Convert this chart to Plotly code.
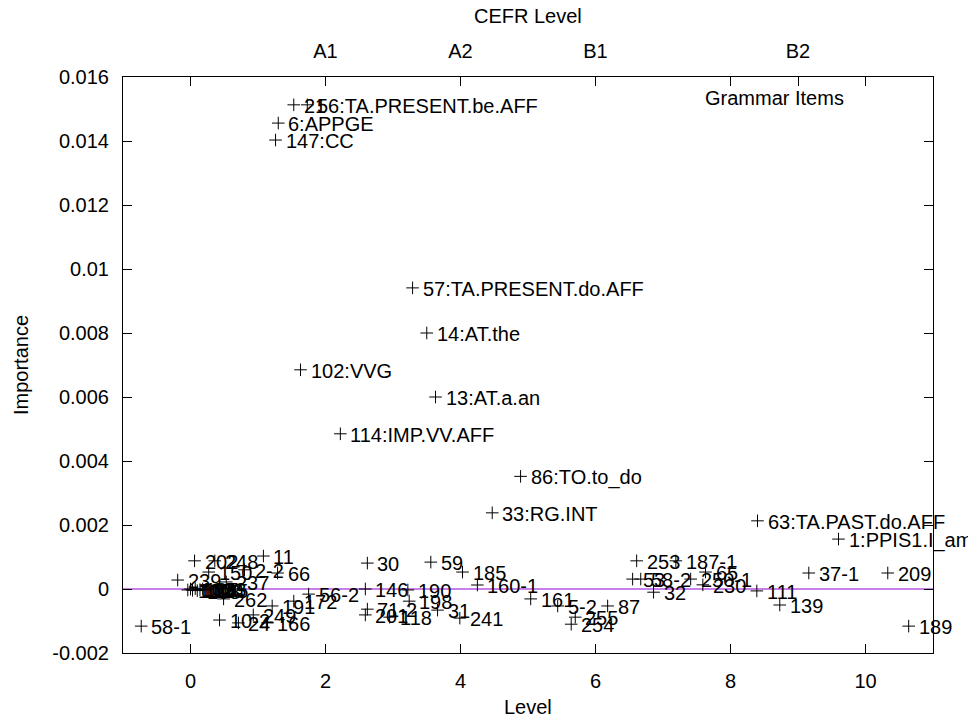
import plotly.graph_objects as go

# ---- data ----
labels = [
    "21", "56:TA.PRESENT.be.AFF", "6:APPGE", "147:CC",
    "57:TA.PRESENT.do.AFF", "14:AT.the", "102:VVG", "13:AT.a.an",
    "114:IMP.VV.AFF", "86:TO.to_do", "33:RG.INT", "63:TA.PAST.do.AFF",
    "1:PPIS1.I_am.AFF",
    "202", "248", "2-2", "11", "66", "150", "239", "237",
    "100", "103", "104", "107", "108", "120", "123", "205",
    "262", "10-2", "24", "249", "166", "191", "172", "56-2",
    "146", "30", "71-2", "201", "118", "190", "198", "31",
    "59", "185", "160-1", "241", "161", "5-2", "87", "255", "254",
    "253", "187-1", "53", "58-2", "32", "250-1", "65", "230",
    "111", "139", "37-1", "209", "189", "58-1",
]
level = [
    1.53, 1.73, 1.30, 1.26,
    3.29, 3.50, 1.63, 3.63,
    2.22, 4.89, 4.47, 8.40,
    9.60,
    0.06, 0.36, 0.80, 1.08, 1.29, 0.27, -0.19, 0.53,
    -0.04, 0.00, 0.03, 0.07, 0.10, 0.14, 0.18, 0.22,
    0.49, 0.43, 0.71, 0.93, 1.14, 1.21, 1.53, 1.75,
    2.59, 2.62, 2.62, 2.59, 2.95, 3.22, 3.24, 3.66,
    3.56, 4.03, 4.25, 3.99, 5.04, 5.44, 6.18, 5.70, 5.64,
    6.61, 7.19, 6.55, 6.67, 6.86, 7.41, 7.63, 7.59,
    8.39, 8.73, 9.16, 10.33, 10.64, -0.73,
]
importance = [
    0.01513, 0.01513, 0.01456, 0.01403,
    0.00941, 0.00800, 0.00685, 0.00600,
    0.00485, 0.00352, 0.00238, 0.00213,
    0.00156,
    0.00088, 0.00088, 0.00060, 0.00103, 0.00050, 0.00053, 0.00028, 0.00022,
    -0.00003, 0.00000, -0.00004, 0.00001, -0.00005, -0.00002, 0.00000, -0.00003,
    -0.00031, -0.00097, -0.00106, -0.00081, -0.00106, -0.00053, -0.00038, -0.00016,
    0.00000, 0.00081, -0.00063, -0.00081, -0.00088, -0.00003, -0.00038, -0.00066,
    0.00084, 0.00053, 0.000125, -0.00091, -0.00031, -0.00053, -0.00053, -0.00088, -0.00110,
    0.00088, 0.00088, 0.00031, 0.00031, -0.00010, 0.00031, 0.00053, 0.00013,
    -0.00006, -0.00050, 0.00050, 0.00050, -0.00116, -0.00116,
]

x_ticks = [0, 2, 4, 6, 8, 10]
y_ticks = [-0.002, 0, 0.002, 0.004, 0.006, 0.008, 0.010, 0.012, 0.014, 0.016]
y_ticktext = ["-0.002", "0", "0.002", "0.004", "0.006", "0.008", "0.01", "0.012", "0.014", "0.016"]
cefr_pos = [2, 4, 6, 9]
cefr_text = ["A1", "A2", "B1", "B2"]

FONT = "Liberation Sans, Arial, Helvetica, sans-serif"
FS = 20

fig = go.Figure()
fig.add_trace(go.Scatter(
    x=level, y=importance, mode="markers",
    marker=dict(symbol="cross-thin", size=9, color="black",
                line=dict(color="black", width=1)),
    cliponaxis=False, showlegend=False, hoverinfo="skip",
))
# carrier for the top (CEFR) axis
fig.add_trace(go.Scatter(
    x=cefr_pos, y=[None] * len(cefr_pos), xaxis="x2", mode="markers",
    marker=dict(opacity=0), showlegend=False, hoverinfo="skip",
))

annotations = []
for lab, xv, yv in zip(labels, level, importance):
    annotations.append(dict(
        x=xv, y=yv, xref="x", yref="y", text=lab, showarrow=False,
        xanchor="left", yanchor="middle", xshift=8, yshift=-1,
        font=dict(family=FONT, size=FS, color="black"),
    ))

L, R, T, B = 123, 933, 77, 653
W, H = 968, 721
pw, ph = R - L, B - T

def px(xp):
    return (xp - L) / pw

def py(yp):
    return (B - yp) / ph

annotations += [
    dict(x=px(528), y=py(16), xref="paper", yref="paper", text="CEFR Level",
         showarrow=False, xanchor="center", yanchor="middle",
         font=dict(family=FONT, size=FS, color="black")),
    dict(x=px(528), y=py(707), xref="paper", yref="paper", text="Level",
         showarrow=False, xanchor="center", yanchor="middle",
         font=dict(family=FONT, size=FS, color="black")),
    dict(x=px(21), y=py(365), xref="paper", yref="paper", text="Importance",
         showarrow=False, xanchor="center", yanchor="middle", textangle=-90,
         font=dict(family=FONT, size=FS, color="black")),
    dict(x=px(846), y=py(98), xref="paper", yref="paper", text="Grammar Items",
         showarrow=False, xanchor="right", yanchor="middle",
         font=dict(family=FONT, size=FS, color="black")),
]

fig.update_layout(
    width=W, height=H,
    margin=dict(l=L, r=W - R, t=T, b=H - B, pad=0),
    paper_bgcolor="white", plot_bgcolor="white",
    font=dict(family=FONT, size=FS, color="black"),
    showlegend=False,
    annotations=annotations,
    shapes=[dict(type="line", xref="paper", x0=0, x1=1, yref="y", y0=0, y1=0,
                 line=dict(color="#9400D3", width=1.2), layer="below")],
    xaxis=dict(
        range=[-1, 11], tickvals=x_ticks, ticktext=[str(v) for v in x_ticks],
        ticks="inside", ticklen=9, tickcolor="black", tickwidth=1,
        showline=True, linecolor="black", linewidth=1, mirror="ticks",
        showgrid=False, zeroline=False, ticklabelstandoff=10,
        tickfont=dict(family=FONT, size=FS, color="black"),
    ),
    xaxis2=dict(
        range=[-1, 11], overlaying="x", side="top", anchor="y",
        tickvals=cefr_pos, ticktext=cefr_text,
        ticks="inside", ticklen=9, tickcolor="black", tickwidth=1,
        showline=False, showgrid=False, zeroline=False, ticklabelstandoff=14,
        tickfont=dict(family=FONT, size=FS, color="black"),
    ),
    yaxis=dict(
        range=[-0.002, 0.016], tickvals=y_ticks, ticktext=y_ticktext,
        ticks="inside", ticklen=9, tickcolor="black", tickwidth=1,
        showline=True, linecolor="black", linewidth=1, mirror="ticks",
        showgrid=False, zeroline=False,
        ticklabelstandoff=9,
        tickfont=dict(family=FONT, size=FS, color="black"),
    ),
)

fig.write_html("out.html")
